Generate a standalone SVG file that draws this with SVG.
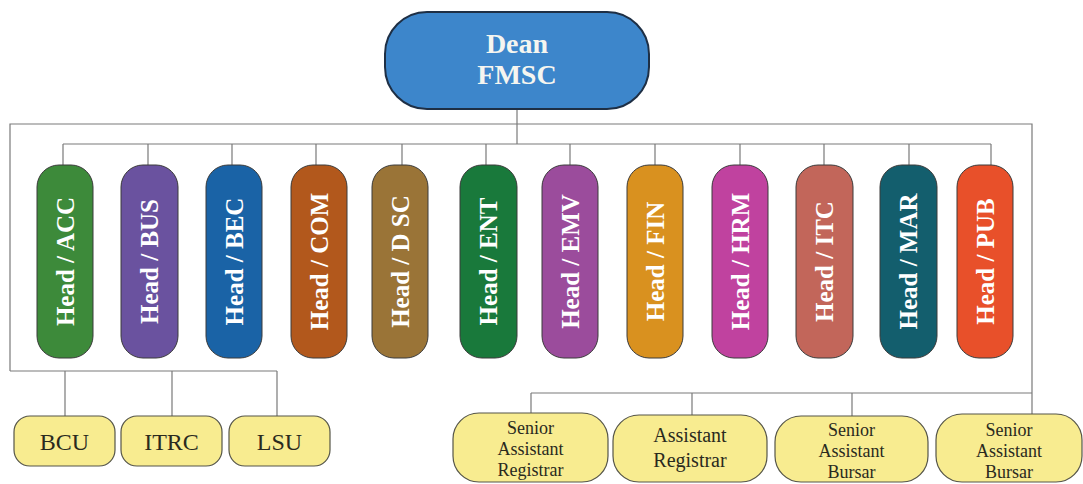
<svg xmlns="http://www.w3.org/2000/svg" width="1083" height="484" viewBox="0 0 1083 484">
<defs>
<style>
.ln{fill:none;stroke:#7a7a7a;stroke-width:1.2}
.pill{stroke:#3a3a3a;stroke-width:1}
.ht{font-family:"Liberation Serif","DejaVu Serif",serif;font-weight:bold;font-size:25px;fill:#ffffff;text-anchor:middle;dominant-baseline:central}
.box{fill:#f8ec90;stroke:#555548;stroke-width:1.2}
.bt{font-family:"Liberation Serif","DejaVu Serif",serif;font-size:18px;fill:#2a2a1e;text-anchor:middle}
.bb{font-family:"Liberation Serif","DejaVu Serif",serif;font-size:24px;fill:#2a2a1e;text-anchor:middle}
.dt{font-family:"Liberation Serif","DejaVu Serif",serif;font-weight:bold;font-size:28px;fill:#f5f5f0;text-anchor:middle}
</style>
</defs>
<rect width="1083" height="484" fill="#ffffff"/>
<g id="connectors">
<path class="ln" d="M10,371 V124 H1032 V393"/>
<path class="ln" d="M517,109 V144"/>
<path class="ln" d="M63,144 H991"/>
<path class="ln" d="M63,144V165 M148,144V165 M232,144V165 M316,144V165 M402,144V165 M486,144V165 M570,144V165 M655,144V165 M740,144V165 M824,144V165 M909,144V165 M991,144V165"/>
<path class="ln" d="M10,371 H277 M65,371V416 M172,371V416 M277,371V416"/>
<path class="ln" d="M531,393 H1032 M531,393V413 M692,393V415 M852,393V416 M1032,393V414"/>
</g>
<g id="dean">
<rect x="385" y="12" width="264" height="97" rx="42" fill="#3d86cb" stroke="#1e2f45" stroke-width="2"/>
<text class="dt" x="517" y="53">Dean</text>
<text class="dt" x="517" y="84">FMSC</text>
</g>
<g id="acc"><rect class="pill" x="37" y="165" width="56" height="193" rx="22" fill="#3d8a3a"/><text class="ht" transform="translate(65,261.5) rotate(-90)">Head / ACC</text></g>
<g id="bus"><rect class="pill" x="121" y="165" width="57" height="193" rx="22" fill="#6a529f"/><text class="ht" transform="translate(149.5,261.5) rotate(-90)">Head / BUS</text></g>
<g id="bec"><rect class="pill" x="206" y="165" width="56" height="193" rx="22" fill="#1a63a6"/><text class="ht" transform="translate(234,261.5) rotate(-90)">Head / BEC</text></g>
<g id="com"><rect class="pill" x="291" y="165" width="56" height="193" rx="22" fill="#b2581c"/><text class="ht" transform="translate(319,261.5) rotate(-90)">Head / COM</text></g>
<g id="dsc"><rect class="pill" x="372" y="165" width="56" height="193" rx="22" fill="#9a7437"/><text class="ht" transform="translate(400,261.5) rotate(-90)">Head / D SC</text></g>
<g id="ent"><rect class="pill" x="460" y="165" width="57" height="193" rx="22" fill="#19793b"/><text class="ht" transform="translate(488.5,261.5) rotate(-90)">Head / ENT</text></g>
<g id="emv"><rect class="pill" x="542" y="165" width="56" height="193" rx="22" fill="#9b4c9c"/><text class="ht" transform="translate(570,261.5) rotate(-90)">Head / EMV</text></g>
<g id="fin"><rect class="pill" x="627" y="165" width="56" height="193" rx="22" fill="#d9911f"/><text class="ht" transform="translate(655,261.5) rotate(-90)">Head / FIN</text></g>
<g id="hrm"><rect class="pill" x="712" y="165" width="56" height="193" rx="22" fill="#c0429f"/><text class="ht" transform="translate(740,261.5) rotate(-90)">Head / HRM</text></g>
<g id="itc"><rect class="pill" x="796" y="165" width="57" height="193" rx="22" fill="#c2665a"/><text class="ht" transform="translate(824.5,261.5) rotate(-90)">Head / ITC</text></g>
<g id="mar"><rect class="pill" x="880" y="165" width="57" height="193" rx="22" fill="#135e6d"/><text class="ht" transform="translate(908.5,261.5) rotate(-90)">Head / MAR</text></g>
<g id="pub"><rect class="pill" x="957" y="165" width="56" height="193" rx="22" fill="#e8502a"/><text class="ht" transform="translate(985,261.5) rotate(-90)">Head / PUB</text></g>
<g id="bcu"><rect class="box" x="14" y="416" width="101" height="50" rx="16"/><text class="bb" x="64.5" y="450">BCU</text></g>
<g id="itrc"><rect class="box" x="121" y="416" width="101" height="50" rx="16"/><text class="bb" x="171.5" y="450">ITRC</text></g>
<g id="lsu"><rect class="box" x="229" y="416" width="101" height="50" rx="16"/><text class="bb" x="279.5" y="450">LSU</text></g>
<g id="sar"><rect class="box" x="453" y="413" width="155" height="69" rx="26"/><text class="bt" x="530.5" y="434">Senior</text><text class="bt" x="530.5" y="455">Assistant</text><text class="bt" x="530.5" y="476">Registrar</text></g>
<g id="ar"><rect class="box" x="613" y="415" width="154" height="67" rx="26"/><text class="bt" x="690" y="442" style="font-size:20px">Assistant</text><text class="bt" x="690" y="467" style="font-size:20px">Registrar</text></g>
<g id="sab1"><rect class="box" x="775" y="416" width="153" height="66" rx="26"/><text class="bt" x="851.5" y="436">Senior</text><text class="bt" x="851.5" y="457">Assistant</text><text class="bt" x="851.5" y="478">Bursar</text></g>
<g id="sab2"><rect class="box" x="936" y="414" width="146" height="68" rx="26"/><text class="bt" x="1009" y="436">Senior</text><text class="bt" x="1009" y="457">Assistant</text><text class="bt" x="1009" y="478">Bursar</text></g>
</svg>
